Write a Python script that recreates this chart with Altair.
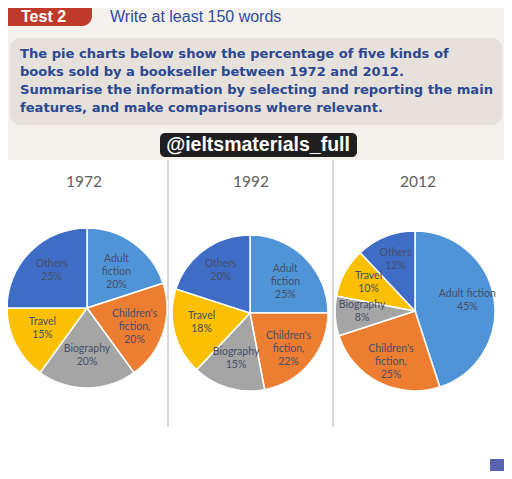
import altair as alt
import pandas as pd

years = ["1972", "1992", "2012"]
categories = ["Adult fiction", "Children's fiction", "Biography", "Travel", "Others"]
share_1972 = [20, 20, 20, 15, 25]
share_1992 = [25, 22, 15, 18, 20]
share_2012 = [45, 25, 8, 10, 12]
label_names_short = ["Adult\nfiction", "Children's\nfiction,", "Biography", "Travel", "Others"]
label_names_2012 = ["Adult fiction", "Children's\nfiction,", "Biography", "Travel", "Others"]
colors = ["#5094d8", "#ed7d31", "#a5a5a5", "#fbc002", "#3f6dc6"]

header_lines = [
    "The pie charts below show the percentage of five kinds of",
    "books sold by a bookseller between 1972 and 2012.",
    "Summarise the information by selecting and reporting the main",
    "features, and make comparisons where relevant.",
]

rows = []
for year, shares, names in [("1972", share_1972, label_names_short),
                            ("1992", share_1992, label_names_short),
                            ("2012", share_2012, label_names_2012)]:
    for i, (cat, v, nm) in enumerate(zip(categories, shares, names)):
        rows.append({"year": year, "category": cat, "value": v, "idx": i,
                     "label": f"{nm}\n{v}%"})
df = pd.DataFrame(rows)

one = alt.Data(values=[{"a": 1}])

def rect(x, x2, y, y2, color, radius=0, opacity=1):
    return alt.Chart(one).mark_rect(color=color, cornerRadius=radius, opacity=opacity).encode(
        x=alt.value(x), x2=alt.value(x2), y=alt.value(y), y2=alt.value(y2))

def text(s, x, y, size, color, weight="normal", align="left", font="Liberation Sans"):
    return alt.Chart(one).mark_text(text=s, fontSize=size, color=color, fontWeight=weight,
                                    align=align, baseline="middle", font=font).encode(
        x=alt.value(x), y=alt.value(y))

def rule(x, y, y2, color, w):
    return alt.Chart(one).mark_rule(color=color, strokeWidth=w).encode(
        x=alt.value(x), y=alt.value(y), y2=alt.value(y2))

color_scale = alt.Scale(domain=categories, range=colors)

def pie(year, cx, cy, r, lr):
    base = alt.Chart(df).transform_filter(alt.datum.year == year)
    arc = base.mark_arc(outerRadius=r, stroke="white", strokeWidth=1.5).encode(
        theta=alt.Theta("value:Q", stack=True),
        color=alt.Color("category:N", scale=color_scale, legend=None),
        order=alt.Order("idx:Q"),
        x=alt.value(cx), y=alt.value(cy))
    lab = base.mark_text(radius=lr, font="Lato", fontSize=10.5, lineBreak="\n", lineHeight=13,
                         color="#454f66", baseline="middle", dy=-9).encode(
        theta=alt.Theta("value:Q", stack=True),
        order=alt.Order("idx:Q"),
        text="label:N",
        x=alt.value(cx), y=alt.value(cy))
    return [arc, lab]

layers = [
    rect(0, 496, 0, 152, "#f5f1ec"),
    rect(-10, 84, -10, 18, "#bf3a2b", radius=10),
    text("Test 2", 13, 9, 16, "white", "bold"),
    text("Write at least 150 words", 102, 9, 16, "#2f4b9c"),
    rect(2, 494, 30, 117, "#e7e1db", radius=10),
]
for i, line in enumerate(header_lines):
    layers.append(text(line, 12, 46 + 18 * i, 13.1, "#2b4892", "bold", font="DejaVu Sans"))
layers += [
    rect(152, 349, 125, 149, "#1f1f1f", radius=5),
    text("@ieltsmaterials_full", 250, 137, 19.5, "white", "bold", align="center"),
    rule(160, 152, 419, "#cccccc", 1.5),
    rule(325, 152, 419, "#cccccc", 1.5),
    text(years[0], 76, 174, 15.5, "#606060", align="center", font="Lato"),
    text(years[1], 243, 174, 15.5, "#606060", align="center", font="Lato"),
    text(years[2], 410, 174, 15.5, "#606060", align="center", font="Lato"),
    rect(482, 496, 451, 463, "#5a63b0"),
]
layers += pie("1972", 79, 300, 80, 50)
layers += pie("1992", 242, 305, 78, 50)
layers += pie("2012", 407, 303, 80, 53)

chart = alt.layer(*layers).properties(
    width=496, height=463, padding=0, autosize="none", background="white"
).configure_view(stroke=None)

chart.save("out.html", embed_options={"renderer": "svg", "actions": False})
